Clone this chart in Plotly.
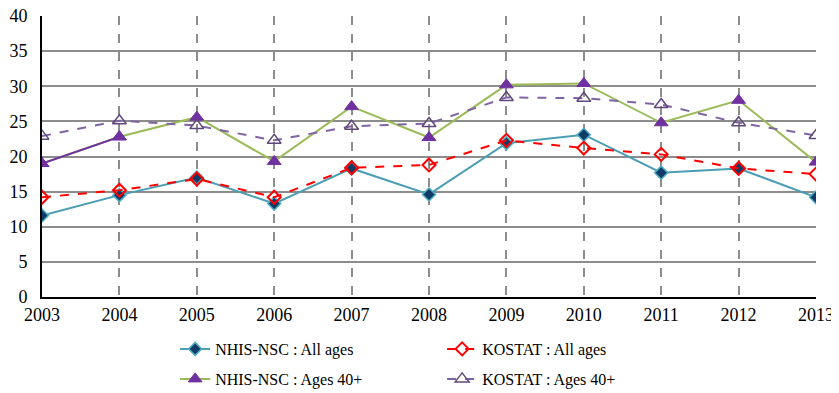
import plotly.graph_objects as go

years = [2003, 2004, 2005, 2006, 2007, 2008, 2009, 2010, 2011, 2012, 2013]
nhis_all = [11.6, 14.5, 17.0, 13.3, 18.3, 14.6, 21.9, 23.1, 17.7, 18.3, 14.2]
kostat_all = [14.2, 15.2, 16.8, 14.2, 18.4, 18.8, 22.3, 21.2, 20.3, 18.3, 17.5]
nhis_40 = [19.0, 22.8, 25.6, 19.3, 27.1, 22.7, 30.2, 30.4, 24.8, 28.0, 19.2]
kostat_40 = [22.9, 25.1, 24.4, 22.3, 24.3, 24.7, 28.4, 28.3, 27.4, 24.8, 23.0]
y_ticks = [0, 5, 10, 15, 20, 25, 30, 35, 40]

FONT = "'Times New Roman', 'Liberation Serif', 'DejaVu Serif', serif"

fig = go.Figure()

fig.add_trace(go.Scatter(
    x=years, y=nhis_all, mode="lines+markers", name="NHIS-NSC : All ages",
    line=dict(color="#4A9DB3", width=2),
    marker=dict(symbol="diamond", size=10, color="#0F3B66",
                line=dict(color="#4BACC6", width=1.5)),
    legend="legend"))
fig.add_trace(go.Scatter(
    x=years, y=kostat_all, mode="lines+markers", name="KOSTAT : All ages",
    line=dict(color="#FF0000", width=2, dash="dash"),
    marker=dict(symbol="diamond-open", size=10, color="#FF0000",
                line=dict(color="#FF0000", width=2)),
    legend="legend"))
fig.add_trace(go.Scatter(
    x=years, y=nhis_40, mode="lines+markers", name="NHIS-NSC : Ages 40+",
    line=dict(color="#9BBB59", width=2),
    marker=dict(symbol="triangle-up", size=12, color="#7030A0",
                line=dict(color="#7030A0", width=1)),
    legend="legend2"))
# first segment drawn in purple as in the reference
fig.add_trace(go.Scatter(
    x=years[:2], y=nhis_40[:2], mode="lines+markers", showlegend=False,
    line=dict(color="#7030A0", width=2),
    marker=dict(symbol="triangle-up", size=12, color="#7030A0",
                line=dict(color="#7030A0", width=1))))
fig.add_trace(go.Scatter(
    x=years, y=kostat_40, mode="lines+markers", name="KOSTAT : Ages 40+",
    line=dict(color="#8064A2", width=2, dash="dash"),
    marker=dict(symbol="triangle-up-open", size=12, color="#5F497A",
                line=dict(color="#5F497A", width=1.5)),
    legend="legend2"))

# page body has an 8px margin, so the figure is 8px smaller than the window
fig.update_layout(
    width=831, height=385,
    margin=dict(l=34, r=23, t=8, b=96, autoexpand=False),
    paper_bgcolor="white", plot_bgcolor="white",
    font=dict(family=FONT, size=16, color="black"),
    xaxis=dict(range=[2003, 2013], tickvals=years, ticktext=[str(y) for y in years],
               showgrid=True, gridcolor="#8C8C8C", gridwidth=1.5, griddash="dash",
               showline=True, linecolor="black", linewidth=2, zeroline=False,
               ticks="", ticklabeloverflow="allow",
               tickfont=dict(family=FONT, size=18)),
    yaxis=dict(range=[0, 40], tickvals=y_ticks,
               showgrid=True, gridcolor="#8C8C8C", gridwidth=1.5,
               showline=True, linecolor="black", linewidth=2, zeroline=False,
               ticks="outside", ticklen=9, tickcolor="rgba(0,0,0,0)",
               ticklabeloverflow="allow",
               tickfont=dict(family=FONT, size=18)),
    legend=dict(orientation="h", x=0.172, y=0.1143, yref="container",
                xanchor="left", yanchor="middle",
                entrywidth=222, font=dict(family=FONT, size=16),
                bgcolor="rgba(0,0,0,0)"),
    legend2=dict(orientation="h", x=0.172, y=0.0364, yref="container",
                 xanchor="left", yanchor="middle",
                 entrywidth=222, font=dict(family=FONT, size=16),
                 bgcolor="rgba(0,0,0,0)"),
)

fig.write_html("out.html")
